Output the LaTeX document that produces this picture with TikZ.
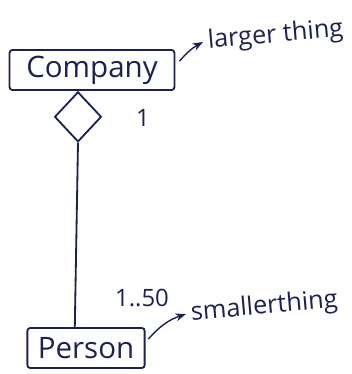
\documentclass[tikz,border=0pt]{standalone}
\usepackage{fontspec}
\setmainfont{Open Sans}
\usetikzlibrary{arrows.meta,positioning,shapes.geometric}
\definecolor{ink}{HTML}{1C2250}

\begin{document}
\begin{tikzpicture}[
  x=0.025cm, y=-0.025cm,
  >=Stealth,
  cls/.style={
    draw=ink,
    line width=1.3pt,
    rounded corners=2pt,
    text=ink,
    font=\fontsize{21}{25}\selectfont,
    inner sep=0pt
  },
  agg/.style={
    diamond,
    draw=ink,
    line width=1.3pt,
    fill=white,
    minimum width=1.17cm,
    minimum height=1.25cm,
    inner sep=0pt
  },
  mult/.style={text=ink, font=\fontsize{17}{20}\selectfont},
  note/.style={text=ink, font=\fontsize{18}{21}\selectfont, anchor=west, rotate=5},
  pointer/.style={->, draw=ink, line width=1pt},
  link/.style={draw=ink, line width=1.3pt}
]

\path[use as bounding box] (0,0) rectangle (352,374);

\node[cls, minimum width=4.12cm, minimum height=1.0cm] (company) at (92,70) {Company};
\node[cls, minimum width=2.93cm, minimum height=1.0cm] (person) at (86,348) {Person};
\node[agg, anchor=north] (whole) at ([xshift=-0.35cm]company.south) {};

\draw[link] (whole.south) -- ([xshift=-0.28cm]person.north);

\node[mult] (one) at (143,118) {1};
\node[mult] (many) at (142,298) {1..50};

\node[note] (larger) at (203,42) {larger thing};
\node[note] (smaller) at (186,314) {smallerthing};

\draw[pointer] ([xshift=3pt, yshift=-0.3cm]company.north east) to[bend left=10] (larger.west);
\draw[pointer] ([xshift=2pt, yshift=-0.3cm]person.north east) to[bend left=15] (smaller.west);

\end{tikzpicture}
\end{document}
